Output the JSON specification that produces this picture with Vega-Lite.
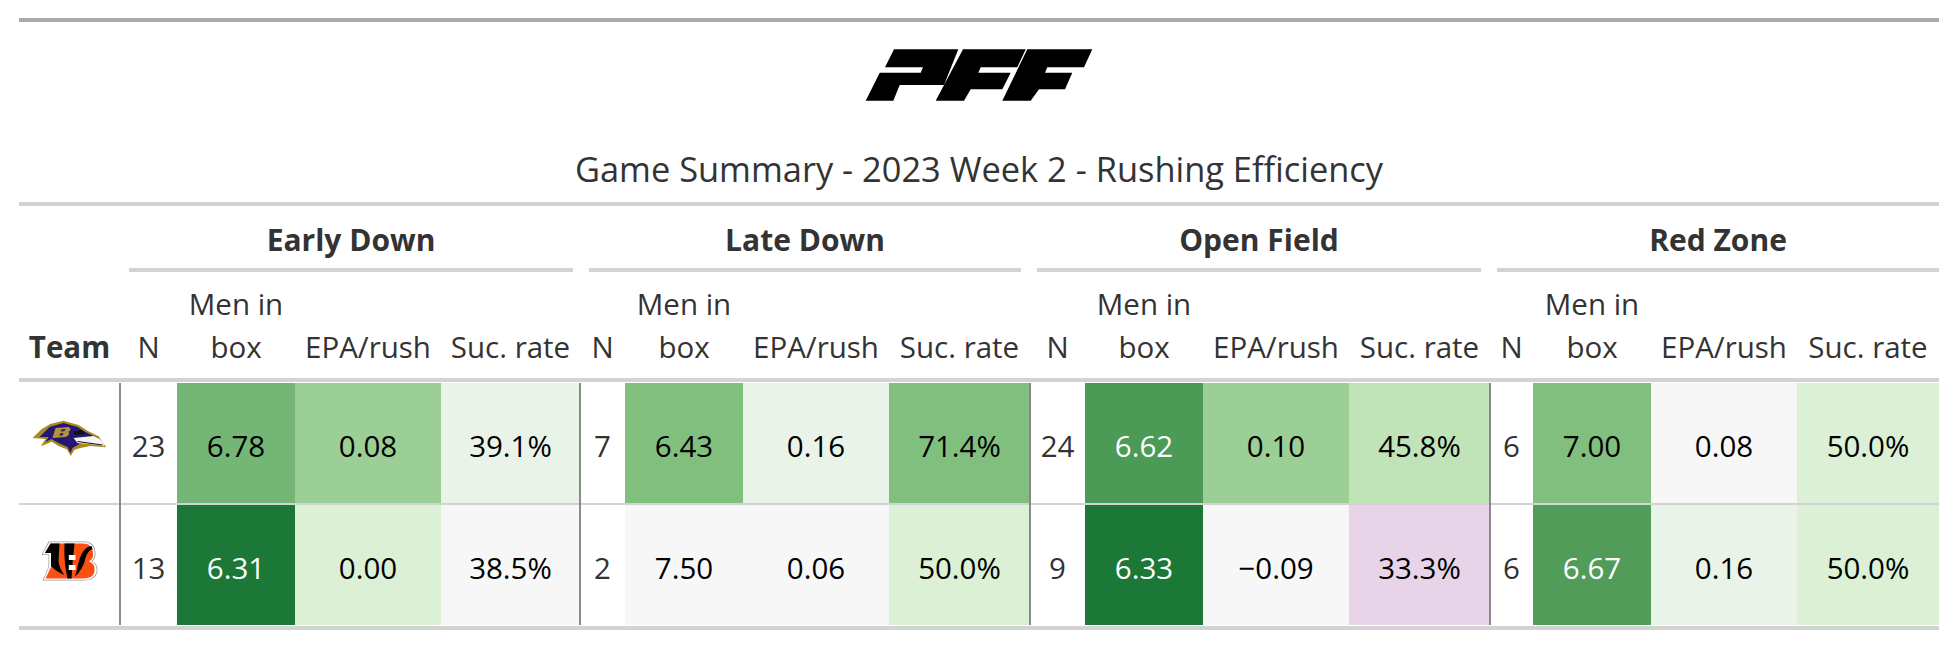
{"$schema":"https://vega.github.io/schema/vega-lite/v6.json","padding":{"left":19,"right":19,"top":18,"bottom":18},"background":"white","autosize":{"type":"pad"},"spacing":0,
"config":{"view":{"stroke":null},"concat":{"spacing":0},"text":{"font":"Open Sans","fontSize":29.5,"color":"#333333"}},
"datasets":{
"cols":[{"group":"All","metric":"Team","label":"Team"},
{"group":"Early Down","metric":"N","label":"N"},{"group":"Early Down","metric":"Men","label":"Men in\nbox"},{"group":"Early Down","metric":"EPA","label":"EPA/rush"},{"group":"Early Down","metric":"Suc","label":"Suc. rate"},
{"group":"Late Down","metric":"N","label":"N"},{"group":"Late Down","metric":"Men","label":"Men in\nbox"},{"group":"Late Down","metric":"EPA","label":"EPA/rush"},{"group":"Late Down","metric":"Suc","label":"Suc. rate"},
{"group":"Open Field","metric":"N","label":"N"},{"group":"Open Field","metric":"Men","label":"Men in\nbox"},{"group":"Open Field","metric":"EPA","label":"EPA/rush"},{"group":"Open Field","metric":"Suc","label":"Suc. rate"},
{"group":"Red Zone","metric":"N","label":"N"},{"group":"Red Zone","metric":"Men","label":"Men in\nbox"},{"group":"Red Zone","metric":"EPA","label":"EPA/rush"},{"group":"Red Zone","metric":"Suc","label":"Suc. rate"}],
"cells":[
{"team":"Ravens","group":"Early Down","metric":"N","value":23},{"team":"Ravens","group":"Early Down","metric":"Men","value":6.78,"shade":6},{"team":"Ravens","group":"Early Down","metric":"EPA","value":0.08,"shade":4},{"team":"Ravens","group":"Early Down","metric":"Suc","value":0.391,"shade":1},
{"team":"Ravens","group":"Late Down","metric":"N","value":7},{"team":"Ravens","group":"Late Down","metric":"Men","value":6.43,"shade":5},{"team":"Ravens","group":"Late Down","metric":"EPA","value":0.16,"shade":1},{"team":"Ravens","group":"Late Down","metric":"Suc","value":0.714,"shade":5},
{"team":"Ravens","group":"Open Field","metric":"N","value":24},{"team":"Ravens","group":"Open Field","metric":"Men","value":6.62,"shade":8},{"team":"Ravens","group":"Open Field","metric":"EPA","value":0.10,"shade":4},{"team":"Ravens","group":"Open Field","metric":"Suc","value":0.458,"shade":3},
{"team":"Ravens","group":"Red Zone","metric":"N","value":6},{"team":"Ravens","group":"Red Zone","metric":"Men","value":7.00,"shade":5},{"team":"Ravens","group":"Red Zone","metric":"EPA","value":0.08,"shade":0},{"team":"Ravens","group":"Red Zone","metric":"Suc","value":0.5,"shade":2},
{"team":"Bengals","group":"Early Down","metric":"N","value":13},{"team":"Bengals","group":"Early Down","metric":"Men","value":6.31,"shade":9},{"team":"Bengals","group":"Early Down","metric":"EPA","value":0.00,"shade":2},{"team":"Bengals","group":"Early Down","metric":"Suc","value":0.385,"shade":0},
{"team":"Bengals","group":"Late Down","metric":"N","value":2},{"team":"Bengals","group":"Late Down","metric":"Men","value":7.50,"shade":0},{"team":"Bengals","group":"Late Down","metric":"EPA","value":0.06,"shade":0},{"team":"Bengals","group":"Late Down","metric":"Suc","value":0.5,"shade":2},
{"team":"Bengals","group":"Open Field","metric":"N","value":9},{"team":"Bengals","group":"Open Field","metric":"Men","value":6.33,"shade":9},{"team":"Bengals","group":"Open Field","metric":"EPA","value":-0.09,"shade":0},{"team":"Bengals","group":"Open Field","metric":"Suc","value":0.333,"shade":-1},
{"team":"Bengals","group":"Red Zone","metric":"N","value":6},{"team":"Bengals","group":"Red Zone","metric":"Men","value":6.67,"shade":7},{"team":"Bengals","group":"Red Zone","metric":"EPA","value":0.16,"shade":1},{"team":"Bengals","group":"Red Zone","metric":"Suc","value":0.5,"shade":2}
]},
"vconcat":[
{"width":1920,"height":4,"data":{"values":[{"part":"rule"}]},"mark":{"type":"rect","fill":"#a9a9a9"},"encoding":{}},
{"width":1920,"height":106,"data":{"values":[{"brand":"PFF"}]},"mark":{"type":"point","filled":true,"opacity":1,"fill":"#000000","stroke":null,"size":4,"shape":"M-85,-25.7 L-20.7,-25.7 L-35,10 L-79.3,10 L-85.7,25.7 L-113.3,25.7 L-99.3,-2.3 L-58.3,-2.3 L-56,-7.7 L-94,-7.7 Z M-16,-25.7 L46.7,-25.7 L38.3,-7.7 L1.7,-7.7 L-0.7,-2.3 L31.7,-2.3 L23.3,14.3 L-8.3,14.3 L-15,25.7 L-43.3,25.7 Z M48.3,-25.7 L113.3,-25.7 L105,-7.7 L68.3,-7.7 L66,-2.3 L93.3,-2.3 L86,14.3 L60,14.3 L51.7,25.7 L23.3,25.7 Z"},"encoding":{}},
{"width":1920,"height":74,"data":{"values":[{"title":"Game Summary - 2023 Week 2 - Rushing Efficiency"}]},"mark":{"type":"text","fontSize":34.4,"baseline":"middle","dy":7},"encoding":{"text":{"field":"title"}}},
{"width":1920,"height":4,"data":{"values":[{"part":"rule"}]},"mark":{"type":"rect","fill":"#d3d3d3"},"encoding":{}},
{"hconcat":[
{"width":94,"height":62,"data":{"values":[{"group":""}]},"mark":{"type":"text","fontWeight":"bold","fontSize":30,"dy":5},"encoding":{"text":{"field":"group"}}},
{"width":444,"height":62,"data":{"values":[{"group":"Early Down"}]},"mark":{"type":"text","fontWeight":"bold","fontSize":30,"dy":5},"encoding":{"text":{"field":"group"}}},
{"width":432,"height":62,"data":{"values":[{"group":"Late Down"}]},"mark":{"type":"text","fontWeight":"bold","fontSize":30,"dy":5},"encoding":{"text":{"field":"group"}}},
{"width":444,"height":62,"data":{"values":[{"group":"Open Field"}]},"mark":{"type":"text","fontWeight":"bold","fontSize":30,"dy":5},"encoding":{"text":{"field":"group"}}},
{"width":442,"height":62,"data":{"values":[{"group":"Red Zone"}]},"mark":{"type":"text","fontWeight":"bold","fontSize":30,"dy":5},"encoding":{"text":{"field":"group"}}}
],"spacing":16,"bounds":"flush"},
{"hconcat":[
{"width":94,"height":4,"data":{"values":[{"part":"blank"}]},"mark":{"type":"rect","fill":"#ffffff"},"encoding":{}},
{"width":444,"height":4,"data":{"values":[{"part":"rule"}]},"mark":{"type":"rect","fill":"#d3d3d3"},"encoding":{}},
{"width":432,"height":4,"data":{"values":[{"part":"rule"}]},"mark":{"type":"rect","fill":"#d3d3d3"},"encoding":{}},
{"width":444,"height":4,"data":{"values":[{"part":"rule"}]},"mark":{"type":"rect","fill":"#d3d3d3"},"encoding":{}},
{"width":442,"height":4,"data":{"values":[{"part":"rule"}]},"mark":{"type":"rect","fill":"#d3d3d3"},"encoding":{}}
],"spacing":16,"bounds":"flush"},
{"data":{"name":"cols"},"hconcat":[
{"width":101,"height":106,"transform":[{"filter":"datum.metric=='Team'"}],"mark":{"type":"text","fontWeight":"bold","baseline":"bottom","dy":39,"lineHeight":43},"encoding":{"text":{"field":"label"}}},
{"width":57,"height":106,"transform":[{"filter":"datum.group=='Early Down'&&datum.metric=='N'"}],"mark":{"type":"text","baseline":"bottom","dy":39,"lineHeight":43},"encoding":{"text":{"field":"label"}}},
{"width":118,"height":106,"transform":[{"filter":"datum.group=='Early Down'&&datum.metric=='Men'"}],"mark":{"type":"text","baseline":"bottom","dy":-4,"lineHeight":43,"lineBreak":"\n"},"encoding":{"text":{"field":"label"}}},
{"width":146,"height":106,"transform":[{"filter":"datum.group=='Early Down'&&datum.metric=='EPA'"}],"mark":{"type":"text","baseline":"bottom","dy":39,"lineHeight":43},"encoding":{"text":{"field":"label"}}},
{"width":139,"height":106,"transform":[{"filter":"datum.group=='Early Down'&&datum.metric=='Suc'"}],"mark":{"type":"text","baseline":"bottom","dy":39,"lineHeight":43},"encoding":{"text":{"field":"label"}}},
{"width":45,"height":106,"transform":[{"filter":"datum.group=='Late Down'&&datum.metric=='N'"}],"mark":{"type":"text","baseline":"bottom","dy":39,"lineHeight":43},"encoding":{"text":{"field":"label"}}},
{"width":118,"height":106,"transform":[{"filter":"datum.group=='Late Down'&&datum.metric=='Men'"}],"mark":{"type":"text","baseline":"bottom","dy":-4,"lineHeight":43,"lineBreak":"\n"},"encoding":{"text":{"field":"label"}}},
{"width":146,"height":106,"transform":[{"filter":"datum.group=='Late Down'&&datum.metric=='EPA'"}],"mark":{"type":"text","baseline":"bottom","dy":39,"lineHeight":43},"encoding":{"text":{"field":"label"}}},
{"width":141,"height":106,"transform":[{"filter":"datum.group=='Late Down'&&datum.metric=='Suc'"}],"mark":{"type":"text","baseline":"bottom","dy":39,"lineHeight":43},"encoding":{"text":{"field":"label"}}},
{"width":55,"height":106,"transform":[{"filter":"datum.group=='Open Field'&&datum.metric=='N'"}],"mark":{"type":"text","baseline":"bottom","dy":39,"lineHeight":43},"encoding":{"text":{"field":"label"}}},
{"width":118,"height":106,"transform":[{"filter":"datum.group=='Open Field'&&datum.metric=='Men'"}],"mark":{"type":"text","baseline":"bottom","dy":-4,"lineHeight":43,"lineBreak":"\n"},"encoding":{"text":{"field":"label"}}},
{"width":146,"height":106,"transform":[{"filter":"datum.group=='Open Field'&&datum.metric=='EPA'"}],"mark":{"type":"text","baseline":"bottom","dy":39,"lineHeight":43},"encoding":{"text":{"field":"label"}}},
{"width":141,"height":106,"transform":[{"filter":"datum.group=='Open Field'&&datum.metric=='Suc'"}],"mark":{"type":"text","baseline":"bottom","dy":39,"lineHeight":43},"encoding":{"text":{"field":"label"}}},
{"width":43,"height":106,"transform":[{"filter":"datum.group=='Red Zone'&&datum.metric=='N'"}],"mark":{"type":"text","baseline":"bottom","dy":39,"lineHeight":43},"encoding":{"text":{"field":"label"}}},
{"width":118,"height":106,"transform":[{"filter":"datum.group=='Red Zone'&&datum.metric=='Men'"}],"mark":{"type":"text","baseline":"bottom","dy":-4,"lineHeight":43,"lineBreak":"\n"},"encoding":{"text":{"field":"label"}}},
{"width":146,"height":106,"transform":[{"filter":"datum.group=='Red Zone'&&datum.metric=='EPA'"}],"mark":{"type":"text","baseline":"bottom","dy":39,"lineHeight":43},"encoding":{"text":{"field":"label"}}},
{"width":142,"height":106,"transform":[{"filter":"datum.group=='Red Zone'&&datum.metric=='Suc'"}],"mark":{"type":"text","baseline":"bottom","dy":39,"lineHeight":43},"encoding":{"text":{"field":"label"}}}
],"bounds":"flush"},
{"width":1920,"height":4,"data":{"values":[{"part":"rule"}]},"mark":{"type":"rect","fill":"#d3d3d3"},"encoding":{}},
{"data":{"name":"cells"},"bounds":"flush","hconcat":[
{"width":101,"height":242,"view":{"fill":"#d3d3d3"},"data":{"values":[{"team":"Ravens"},{"team":"Bengals"}]},"encoding":{"y":{"field":"team","type":"nominal","axis":null,"sort":["Ravens","Bengals"],"scale":{"paddingInner":0.0164,"paddingOuter":0}}},"layer":[
{"mark":{"type":"rect","fill":"#ffffff"}},
{"transform":[{"filter":"datum.team=='Ravens'"}],"mark":{"type":"point","filled":true,"opacity":1,"fill":"#a98a1e","stroke":null,"size":4,"yOffset":-5,"shape":"M-37,0 L-27.7,-9 L-19.3,-14 L-6,-17.3 L9,-13 L18,-7.3 L29,-1.7 L36.7,9.3 L20.7,8 L10.7,10 L4.7,12 L1.3,18 L-2.7,11.3 L-11,8 L-17.7,3.7 L-28.7,8.3 L-24,1 Z"}},
{"transform":[{"filter":"datum.team=='Ravens'"}],"mark":{"type":"point","filled":true,"opacity":1,"fill":"#241773","stroke":null,"size":4,"yOffset":-5,"shape":"M-30,-1 L-20,-11 L-6,-15 L8,-11 L16,-6 L24,-2 L30,0 L6,2 L10,6 L3,10 L1,15 L-2,9 L-11,5 L-18,1 L-24,4 L-21,-1 Z"}},
{"transform":[{"filter":"datum.team=='Ravens'"}],"mark":{"type":"point","filled":true,"opacity":1,"fill":"#f4f4f4","stroke":null,"size":4,"yOffset":-5,"shape":"M4,0 L24,-2 Q33,1 35,8 L20,6 L8,5 Z"}},
{"transform":[{"filter":"datum.team=='Ravens'"}],"mark":{"type":"point","filled":true,"opacity":1,"fill":"#111111","stroke":null,"size":4,"yOffset":-5,"shape":"M8,3 L33,6.5 L33,7.5 L8,4 Z M4,-6 L12,-8 L16,-4 L5,-3 Z"}},
{"transform":[{"filter":"datum.team=='Ravens'"}],"mark":{"type":"point","filled":true,"opacity":1,"fill":"#b3933a","stroke":null,"size":4,"yOffset":-5,"shape":"M-14,-10 L-1,-11 Q3,-9 -1,-6 Q1,-3 -4,-1 L-17,0 Z"}},
{"transform":[{"filter":"datum.team=='Ravens'"}],"mark":{"type":"point","filled":true,"opacity":1,"fill":"#241773","stroke":null,"size":4,"yOffset":-5,"shape":"M-8,-8.5 L-4,-9 L-5,-7 L-8.6,-6.5 Z M-9.5,-4.5 L-6,-5 L-7,-2.5 L-10,-2.2 Z"}},
{"transform":[{"filter":"datum.team=='Bengals'"}],"mark":{"type":"point","filled":true,"opacity":1,"fill":"#9a9a9a","stroke":null,"size":4,"yOffset":-4,"shape":"M-21,-19.5 L15,-19.5 Q26,-19 26,-7 Q26,-2 23,0 Q28,3 28,9 Q27,19.5 14,19.5 L-27,19.5 L-21,6 L-21,-6 L-28,-6 Z"}},
{"transform":[{"filter":"datum.team=='Bengals'"}],"mark":{"type":"point","filled":true,"opacity":1,"fill":"#ffffff","stroke":null,"size":4,"yOffset":-4,"shape":"M-20.3,-18.8 L15,-18.8 Q25.2,-18.3 25.2,-7 Q25.2,-2 22,0 Q27.2,3 27.2,9 Q26.3,18.8 14,18.8 L-26,18.8 L-20.3,6 L-20.3,-6.7 L-27,-6.7 Z"}},
{"transform":[{"filter":"datum.team=='Bengals'"}],"mark":{"type":"point","filled":true,"opacity":1,"fill":"#fb4f14","stroke":null,"size":4,"yOffset":-4,"shape":"M-19,-17.5 L14,-17.5 Q23.5,-17 23.5,-7 Q24,-1 19,0 Q26,3 25,9 Q25,17.5 13,17.5 L-24,17.5 L-18.5,6 L-18.5,-8 L-24.5,-8 Z"}},
{"transform":[{"filter":"datum.team=='Bengals'"}],"mark":{"type":"point","filled":true,"opacity":1,"fill":"#000000","stroke":null,"size":4,"yOffset":-4,"shape":"M-19,-17.5 L-10,-17.5 L-11,0 Q-10,8 -5,14 Q-13,11 -18.5,5 L-18.5,-8 L-24.5,-8 Z M-5,-17.5 L5,-17.5 Q3,0 2,17.5 L-2,17.5 Q-6,0 -5,-17.5 Z M22,-15 Q12,-14 8,6 Q7,12 5,16 Q14,8 16,-3 Q18,-10 23,-12 Z"}},
{"transform":[{"filter":"datum.team=='Bengals'"}],"mark":{"type":"point","filled":true,"opacity":1,"fill":"#ffffff","stroke":null,"size":4,"yOffset":-4,"shape":"M-0.7,-6 L6,-6 L6,-1 L-0.7,-1 Z M-0.7,4 L6,4 L6,9 L-0.7,9 Z"}}
]},
{"width":57,"height":242,"view":{"fill":"#d3d3d3"},"transform":[{"filter":"datum.group=='Early Down'&&datum.metric=='N'"}],"encoding":{"y":{"field":"team","type":"nominal","axis":null,"sort":["Ravens","Bengals"],"scale":{"paddingInner":0.0164,"paddingOuter":0}}},"layer":[{"mark":{"type":"rect","fill":"#ffffff"}},{"mark":{"type":"rule","color":"#808080","strokeWidth":1.4},"encoding":{"x":{"datum":0,"type":"quantitative","axis":null,"scale":{"domain":[0,1]}},"y":{"value":0},"y2":{"value":242}}},{"mark":{"type":"text","baseline":"middle","dy":5},"encoding":{"text":{"field":"value","format":"d"}}}]},
{"width":118,"height":242,"view":{"fill":"#d3d3d3"},"transform":[{"filter":"datum.group=='Early Down'&&datum.metric=='Men'"}],"encoding":{"y":{"field":"team","type":"nominal","axis":null,"sort":["Ravens","Bengals"],"scale":{"paddingInner":0.0164,"paddingOuter":0}}},"layer":[{"mark":"rect","encoding":{"fill":{"field":"shade","type":"ordinal","legend":null,"scale":{"domain":[-1,0,1,2,3,4,5,6,7,8,9],"range":["#e7d4e8","#f7f7f7","#e9f3e8","#dbf0d5","#c1e3b8","#9bcf95","#81bf7e","#73b675","#529c5a","#4b9a56","#1b7837"]}}}},{"mark":{"type":"text","baseline":"middle","dy":5},"encoding":{"text":{"field":"value","format":".2f"},"color":{"condition":{"test":"datum.shade>=7","value":"#ffffff"},"value":"#000000"}}}]},
{"width":146,"height":242,"view":{"fill":"#d3d3d3"},"transform":[{"filter":"datum.group=='Early Down'&&datum.metric=='EPA'"}],"encoding":{"y":{"field":"team","type":"nominal","axis":null,"sort":["Ravens","Bengals"],"scale":{"paddingInner":0.0164,"paddingOuter":0}}},"layer":[{"mark":"rect","encoding":{"fill":{"field":"shade","type":"ordinal","legend":null}}},{"mark":{"type":"text","baseline":"middle","dy":5,"color":"#000000"},"encoding":{"text":{"field":"value","format":".2f"}}}]},
{"width":139,"height":242,"view":{"fill":"#d3d3d3"},"transform":[{"filter":"datum.group=='Early Down'&&datum.metric=='Suc'"}],"encoding":{"y":{"field":"team","type":"nominal","axis":null,"sort":["Ravens","Bengals"],"scale":{"paddingInner":0.0164,"paddingOuter":0}}},"layer":[{"mark":"rect","encoding":{"fill":{"field":"shade","type":"ordinal","legend":null}}},{"mark":{"type":"text","baseline":"middle","dy":5,"color":"#000000"},"encoding":{"text":{"field":"value","format":".1%"}}}]},
{"width":45,"height":242,"view":{"fill":"#d3d3d3"},"transform":[{"filter":"datum.group=='Late Down'&&datum.metric=='N'"}],"encoding":{"y":{"field":"team","type":"nominal","axis":null,"sort":["Ravens","Bengals"],"scale":{"paddingInner":0.0164,"paddingOuter":0}}},"layer":[{"mark":{"type":"rect","fill":"#ffffff"}},{"mark":{"type":"rule","color":"#808080","strokeWidth":1.4},"encoding":{"x":{"datum":0,"type":"quantitative","axis":null,"scale":{"domain":[0,1]}},"y":{"value":0},"y2":{"value":242}}},{"mark":{"type":"text","baseline":"middle","dy":5},"encoding":{"text":{"field":"value","format":"d"}}}]},
{"width":118,"height":242,"view":{"fill":"#d3d3d3"},"transform":[{"filter":"datum.group=='Late Down'&&datum.metric=='Men'"}],"encoding":{"y":{"field":"team","type":"nominal","axis":null,"sort":["Ravens","Bengals"],"scale":{"paddingInner":0.0164,"paddingOuter":0}}},"layer":[{"mark":"rect","encoding":{"fill":{"field":"shade","type":"ordinal","legend":null}}},{"mark":{"type":"text","baseline":"middle","dy":5,"color":"#000000"},"encoding":{"text":{"field":"value","format":".2f"}}}]},
{"width":146,"height":242,"view":{"fill":"#d3d3d3"},"transform":[{"filter":"datum.group=='Late Down'&&datum.metric=='EPA'"}],"encoding":{"y":{"field":"team","type":"nominal","axis":null,"sort":["Ravens","Bengals"],"scale":{"paddingInner":0.0164,"paddingOuter":0}}},"layer":[{"mark":"rect","encoding":{"fill":{"field":"shade","type":"ordinal","legend":null}}},{"mark":{"type":"text","baseline":"middle","dy":5,"color":"#000000"},"encoding":{"text":{"field":"value","format":".2f"}}}]},
{"width":141,"height":242,"view":{"fill":"#d3d3d3"},"transform":[{"filter":"datum.group=='Late Down'&&datum.metric=='Suc'"}],"encoding":{"y":{"field":"team","type":"nominal","axis":null,"sort":["Ravens","Bengals"],"scale":{"paddingInner":0.0164,"paddingOuter":0}}},"layer":[{"mark":"rect","encoding":{"fill":{"field":"shade","type":"ordinal","legend":null}}},{"mark":{"type":"text","baseline":"middle","dy":5,"color":"#000000"},"encoding":{"text":{"field":"value","format":".1%"}}}]},
{"width":55,"height":242,"view":{"fill":"#d3d3d3"},"transform":[{"filter":"datum.group=='Open Field'&&datum.metric=='N'"}],"encoding":{"y":{"field":"team","type":"nominal","axis":null,"sort":["Ravens","Bengals"],"scale":{"paddingInner":0.0164,"paddingOuter":0}}},"layer":[{"mark":{"type":"rect","fill":"#ffffff"}},{"mark":{"type":"rule","color":"#808080","strokeWidth":1.4},"encoding":{"x":{"datum":0,"type":"quantitative","axis":null,"scale":{"domain":[0,1]}},"y":{"value":0},"y2":{"value":242}}},{"mark":{"type":"text","baseline":"middle","dy":5},"encoding":{"text":{"field":"value","format":"d"}}}]},
{"width":118,"height":242,"view":{"fill":"#d3d3d3"},"transform":[{"filter":"datum.group=='Open Field'&&datum.metric=='Men'"}],"encoding":{"y":{"field":"team","type":"nominal","axis":null,"sort":["Ravens","Bengals"],"scale":{"paddingInner":0.0164,"paddingOuter":0}}},"layer":[{"mark":"rect","encoding":{"fill":{"field":"shade","type":"ordinal","legend":null}}},{"mark":{"type":"text","baseline":"middle","dy":5,"color":"#ffffff"},"encoding":{"text":{"field":"value","format":".2f"}}}]},
{"width":146,"height":242,"view":{"fill":"#d3d3d3"},"transform":[{"filter":"datum.group=='Open Field'&&datum.metric=='EPA'"}],"encoding":{"y":{"field":"team","type":"nominal","axis":null,"sort":["Ravens","Bengals"],"scale":{"paddingInner":0.0164,"paddingOuter":0}}},"layer":[{"mark":"rect","encoding":{"fill":{"field":"shade","type":"ordinal","legend":null}}},{"mark":{"type":"text","baseline":"middle","dy":5,"color":"#000000"},"encoding":{"text":{"field":"value","format":".2f"}}}]},
{"width":141,"height":242,"view":{"fill":"#d3d3d3"},"transform":[{"filter":"datum.group=='Open Field'&&datum.metric=='Suc'"}],"encoding":{"y":{"field":"team","type":"nominal","axis":null,"sort":["Ravens","Bengals"],"scale":{"paddingInner":0.0164,"paddingOuter":0}}},"layer":[{"mark":"rect","encoding":{"fill":{"field":"shade","type":"ordinal","legend":null}}},{"mark":{"type":"text","baseline":"middle","dy":5,"color":"#000000"},"encoding":{"text":{"field":"value","format":".1%"}}}]},
{"width":43,"height":242,"view":{"fill":"#d3d3d3"},"transform":[{"filter":"datum.group=='Red Zone'&&datum.metric=='N'"}],"encoding":{"y":{"field":"team","type":"nominal","axis":null,"sort":["Ravens","Bengals"],"scale":{"paddingInner":0.0164,"paddingOuter":0}}},"layer":[{"mark":{"type":"rect","fill":"#ffffff"}},{"mark":{"type":"rule","color":"#808080","strokeWidth":1.4},"encoding":{"x":{"datum":0,"type":"quantitative","axis":null,"scale":{"domain":[0,1]}},"y":{"value":0},"y2":{"value":242}}},{"mark":{"type":"text","baseline":"middle","dy":5},"encoding":{"text":{"field":"value","format":"d"}}}]},
{"width":118,"height":242,"view":{"fill":"#d3d3d3"},"transform":[{"filter":"datum.group=='Red Zone'&&datum.metric=='Men'"}],"encoding":{"y":{"field":"team","type":"nominal","axis":null,"sort":["Ravens","Bengals"],"scale":{"paddingInner":0.0164,"paddingOuter":0}}},"layer":[{"mark":"rect","encoding":{"fill":{"field":"shade","type":"ordinal","legend":null}}},{"mark":{"type":"text","baseline":"middle","dy":5},"encoding":{"text":{"field":"value","format":".2f"},"color":{"condition":{"test":"datum.shade>=7","value":"#ffffff"},"value":"#000000"}}}]},
{"width":146,"height":242,"view":{"fill":"#d3d3d3"},"transform":[{"filter":"datum.group=='Red Zone'&&datum.metric=='EPA'"}],"encoding":{"y":{"field":"team","type":"nominal","axis":null,"sort":["Ravens","Bengals"],"scale":{"paddingInner":0.0164,"paddingOuter":0}}},"layer":[{"mark":"rect","encoding":{"fill":{"field":"shade","type":"ordinal","legend":null}}},{"mark":{"type":"text","baseline":"middle","dy":5,"color":"#000000"},"encoding":{"text":{"field":"value","format":".2f"}}}]},
{"width":142,"height":242,"view":{"fill":"#d3d3d3"},"transform":[{"filter":"datum.group=='Red Zone'&&datum.metric=='Suc'"}],"encoding":{"y":{"field":"team","type":"nominal","axis":null,"sort":["Ravens","Bengals"],"scale":{"paddingInner":0.0164,"paddingOuter":0}}},"layer":[{"mark":"rect","encoding":{"fill":{"field":"shade","type":"ordinal","legend":null}}},{"mark":{"type":"text","baseline":"middle","dy":5,"color":"#000000"},"encoding":{"text":{"field":"value","format":".1%"}}}]}
]},
{"width":1920,"height":4,"data":{"values":[{"part":"rule"}]},"mark":{"type":"rect","fill":"#d3d3d3"},"encoding":{}}
]}
